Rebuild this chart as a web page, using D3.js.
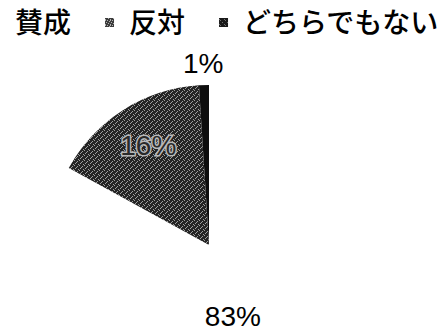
<!DOCTYPE html>
<html>
<head>
<meta charset="utf-8">
<script src="https://cdn.jsdelivr.net/npm/d3@7/dist/d3.min.js"></script>
<style>
  html, body { margin: 0; padding: 0; background: #fff; }
  svg { display: block; }
</style>
</head>
<body>
<div id="chart"></div>
<script>
// Survey answers, share of respondents (%)
const categories = ["賛成", "反対", "どちらでもない"];
const values = [83, 16, 1];
const valueLabels = values.map(v => v + "%");

const width = 448, height = 331;
const cx = 209, cy = 245, radius = 160;

const svg = d3.select("#chart").append("svg")
  .attr("width", width)
  .attr("height", height);

// Speckled halftone fills for the grey and black slices
const defs = svg.append("defs");
function speckle(id, base, dot, cells) {
  const p = defs.append("pattern")
    .attr("id", id)
    .attr("patternUnits", "userSpaceOnUse")
    .attr("width", 5).attr("height", 5);
  p.append("rect").attr("width", 5).attr("height", 5).attr("fill", base);
  cells.forEach(([x, y]) => p.append("rect")
    .attr("x", x).attr("y", y).attr("width", 1).attr("height", 1).attr("fill", dot));
}
speckle("fill-grey", "#242424", "#a0a0a0", [[0, 0], [3, 1], [1, 3], [4, 4], [2, 2]]);
speckle("fill-grey-key", "#3c3c3c", "#b0b0b0", [[0, 0], [2, 0], [4, 1], [1, 2], [3, 3], [0, 4]]);
speckle("fill-dark-key", "#1a1a1a", "#707070", [[0, 0], [2, 2], [4, 4]]);

const color = d3.scaleOrdinal()
  .domain(categories)
  .range(["#ffffff", "url(#fill-grey)", "#0d0d0d"]);
const keyColor = d3.scaleOrdinal()
  .domain(categories)
  .range(["#ffffff", "url(#fill-grey-key)", "url(#fill-dark-key)"]);

const pie = d3.pie().sort(null).value(d => d.value);
const arcs = pie(categories.map((c, i) => ({ name: c, value: values[i], label: valueLabels[i] })));
const arc = d3.arc().innerRadius(0).outerRadius(radius);

const g = svg.append("g").attr("transform", `translate(${cx},${cy})`);

g.selectAll("path.slice")
  .data(arcs)
  .join("path")
  .attr("class", "slice")
  .attr("d", arc)
  .attr("fill", d => color(d.data.name));

// Value labels: small slice outside, others inside
const mid = d => (d.startAngle + d.endAngle) / 2;
const labelPlace = [
  d => d3.pointRadial(mid(d) + 0.21, 75),
  d => d3.pointRadial(mid(d) + 0.02, 117),
  d => d3.pointRadial(mid(d), 182)
];

g.selectAll("text.value")
  .data(arcs)
  .join("text")
  .attr("class", "value")
  .attr("transform", (d, i) => `translate(${labelPlace[i](d)})`)
  .attr("text-anchor", "middle")
  .attr("dy", "0.36em")
  .attr("font-family", "'Liberation Sans', Arial, sans-serif")
  .attr("font-size", 28)
  .attr("fill", d => d.index === 1 ? "#2a2a2a" : "#000")
  .attr("stroke", d => d.index === 1 ? "#b8b8b8" : "none")
  .attr("stroke-width", 3)
  .attr("paint-order", "stroke")
  .text(d => d.data.label);

// Legend across the top
const legend = svg.append("g")
  .attr("font-family", "'Noto Sans CJK JP', sans-serif")
  .attr("font-size", 28)
  .attr("font-weight", 500);

let x = -9;
categories.forEach((c, i) => {
  legend.append("rect")
    .attr("x", x).attr("y", 18)
    .attr("width", 9).attr("height", 9)
    .attr("fill", keyColor(c));
  const t = legend.append("text")
    .attr("x", x + 24).attr("y", 33)
    .attr("fill", "#000")
    .text(c);
  x += 24 + t.node().getComputedTextLength() + 34;
});
</script>
</body>
</html>
